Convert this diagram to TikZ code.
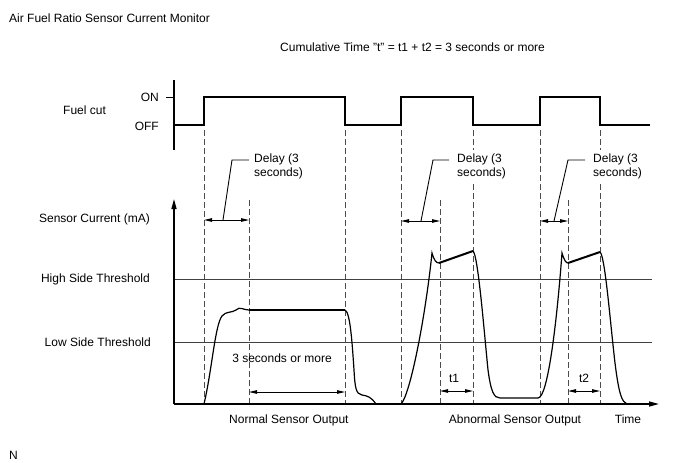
\documentclass[tikz,border=0pt]{standalone}
\usepackage{fontspec}
\setmainfont{Liberation Sans}
\usetikzlibrary{arrows.meta,positioning}
\tikzstyle{ax}  = [black, line width=1.5pt]
\tikzstyle{sig} = [black, line width=2pt, line join=miter]
\tikzstyle{crv} = [black, line width=1.2pt]
\tikzstyle{thr} = [black!75, line width=1pt]
\tikzstyle{dl}  = [black!70, line width=0.9pt, dash pattern=on 6pt off 3pt]
\tikzstyle{dim} = [black, line width=0.9pt, {Triangle[length=8pt,width=3.5pt]}-{Triangle[length=8pt,width=3.5pt]}]
\tikzstyle{lb}  = [inner sep=0pt, font=\fontsize{12}{14}\selectfont]
\tikzstyle{dly} = [lb, anchor=north west, align=left, fill=white, inner sep=4pt]

\begin{document}
\begin{tikzpicture}[x=1pt, y=-1pt]
	\useasboundingbox (0,0) rectangle (688,463);

	% dashed time marks
	\foreach \x/\y in {204/130, 249/200, 345/130, 401/130, 440/200, 473/130, 540/130, 568/200, 600/130}
		\draw[dl] (\x,\y) -- (\x,404);

	% thresholds
	\draw[thr] (174,279) -- (652,279);
	\draw[thr] (174,342) -- (652,342);

	% texts
	\node[lb, anchor=base west] (title) at (9,22.5) {Air Fuel Ratio Sensor Current Monitor};
	\node[lb, anchor=base west] (cum) at (280,51) {Cumulative Time "t" = t1 + t2 = 3 seconds or more};
	\node[lb, anchor=base west] (fuel) at (63,114) {Fuel cut};
	\node[lb, anchor=base east] (on) at (159,101) {ON};
	\node[lb, anchor=base east] (off) at (159,130) {OFF};
	\node[lb, anchor=base east] (cur) at (150,222) {Sensor Current (mA)};
	\node[lb, anchor=base east] (high) at (150,282.5) {High Side Threshold};
	\node[lb, anchor=base east] (low) at (151,346) {Low Side Threshold};
	\node[lb, anchor=base] (more) at (282,362) {3 seconds or more};
	\node[lb, anchor=base west] (normal) at (229,423) {Normal Sensor Output};
	\node[lb, anchor=base] (abnormal) at (515,423) {Abnormal Sensor Output};
	\node[lb, anchor=base] (time) at (628,423) {Time};
	\node[lb, anchor=base] (tone) at (454,382) {t1};
	\node[lb, anchor=base] (ttwo) at (584,382) {t2};
	\node[lb, anchor=base west] (mark) at (9,459) {N};

	\node[dly] (delay1) at (250,150) {Delay (3\\seconds)};
	\node[dly] (delay2) at (453,150) {Delay (3\\seconds)};
	\node[dly] (delay3) at (589,150) {Delay (3\\seconds)};

	% delay arrows and leaders
	\coordinate (d1a) at (204,220); \coordinate (d1b) at (249,220);
	\coordinate (d2a) at (401,221); \coordinate (d2b) at (440,221);
	\coordinate (d3a) at (540,221); \coordinate (d3b) at (568,221);
	\draw[dim] (d1a) -- (d1b);
	\draw[dim] (d2a) -- (d2b);
	\draw[dim] (d3a) -- (d3b);
	\draw[black, line width=0.9pt] (223,220) -- (232,160) -- (249,160);
	\draw[black, line width=0.9pt] (421,221) -- (433,160) -- (449,160);
	\draw[black, line width=0.9pt] (554,221) -- (568,160) -- (585,160);

	% duration arrows
	\coordinate (m1) at (249,392); \coordinate (m2) at (345,392);
	\coordinate (t1a) at (440,391); \coordinate (t1b) at (473,391);
	\coordinate (t2a) at (568,391); \coordinate (t2b) at (600,391);
	\draw[dim] (m1) -- (m2);
	\draw[dim] (t1a) -- (t1b);
	\draw[dim] (t2a) -- (t2b);

	% fuel cut signal
	\draw[ax] (174,80) -- (174,150);
	\draw[black, line width=1pt] (166,97) -- (174,97);
	\draw[sig] (174,125) -- (204,125) -- (204,97) -- (345,97) -- (345,125) -- (401,125) -- (401,97)
		-- (473,97) -- (473,125) -- (540,125) -- (540,97) -- (600,97) -- (600,125) -- (650,125);

	% sensor current, normal
	\draw[crv] (204,404) .. controls (212,370) and (215,325) .. (222,316)
		.. controls (226,311) and (232,313) .. (236,310)
		.. controls (240,306) and (243,310) .. (249,310);
	\draw[sig] (249,310) -- (345,310);
	\draw[crv] (345,310) .. controls (350,312) and (352,340) .. (354,370)
		.. controls (355,388) and (356,394) .. (362,395)
		.. controls (368,396) and (371,397) .. (376,404);

	% sensor current, abnormal
	\draw[crv] (401,404) .. controls (410,395) and (425,320) .. (432,253)
		.. controls (434,260) and (436,263) .. (439,263);
	\draw[sig] (439,263) -- (473,251);
	\draw[crv] (473,251) .. controls (478,255) and (484,330) .. (488,370)
		.. controls (491,392) and (494,398) .. (500,398) -- (538,398)
		.. controls (548,398) and (557,320) .. (562,253)
		.. controls (564,260) and (566,263) .. (568,263);
	\draw[sig] (568,263) -- (600,252);
	\draw[crv] (600,252) .. controls (605,256) and (610,320) .. (615,363)
		.. controls (619,395) and (622,402) .. (627,404);

	% axes
	\draw[ax, -{Triangle[length=10pt,width=5pt]}] (174,404) -- (174,199);
	\draw[ax, -{Triangle[length=10pt,width=5pt]}] (174,404) -- (659,404);
\end{tikzpicture}
\end{document}
